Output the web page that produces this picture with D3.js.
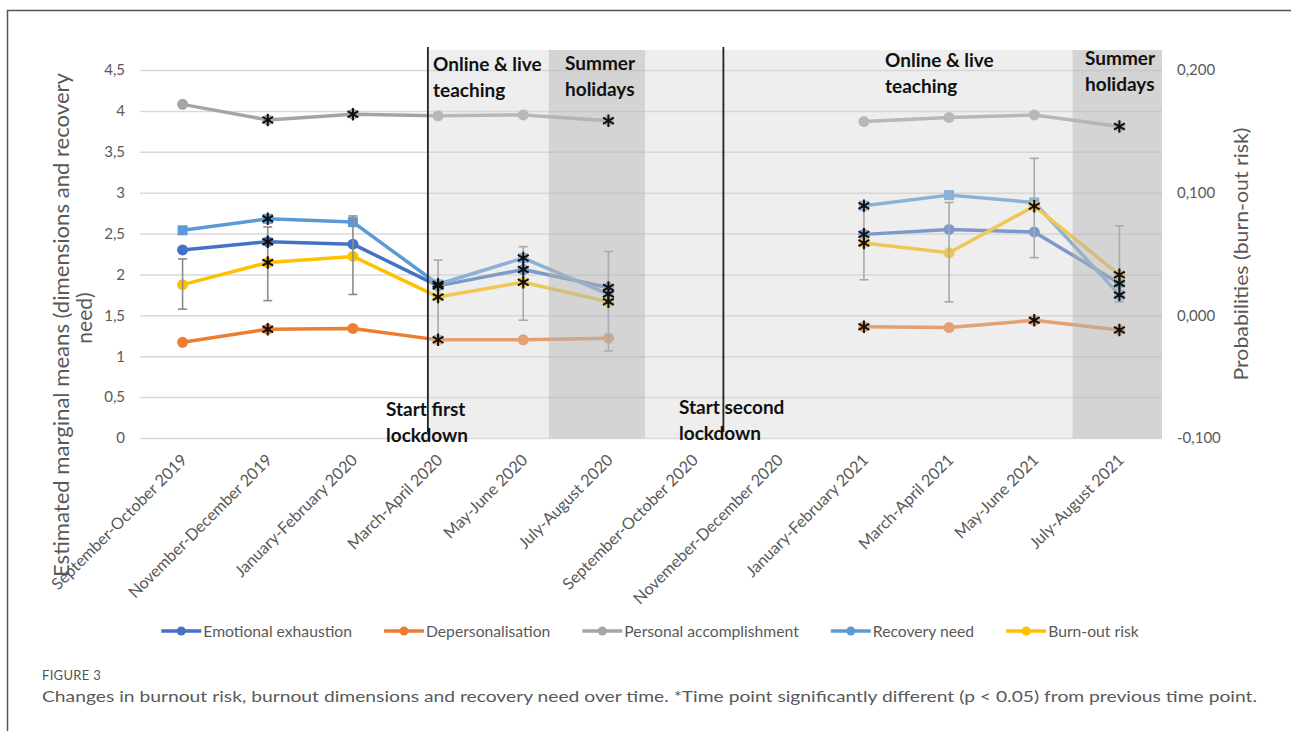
<!DOCTYPE html>
<html><head><meta charset="utf-8">
<script src="https://cdn.jsdelivr.net/npm/d3@7"></script>
<style>body{margin:0;background:#fff}svg{display:block}</style>
</head><body>
<script>
const categories = ["September-October 2019","November-December 2019","January-February 2020","March-April 2020","May-June 2020","July-August  2020","September-October 2020","Novemeber-December 2020","January-February 2021","March-April 2021","May-June 2021","July-August 2021"];
const seriesNames = ["Emotional exhaustion","Depersonalisation","Personal accomplishment","Recovery need","Burn-out risk"];
const emotional = [2.30, 2.40, 2.37, 1.86, 2.06, 1.84, null, null, 2.49, 2.55, 2.52, 1.89];
const depersonalisation = [1.17, 1.33, 1.34, 1.20, 1.20, 1.22, null, null, 1.36, 1.35, 1.44, 1.32];
const accomplishment = [4.08, 3.89, 3.96, 3.94, 3.95, 3.88, null, null, 3.87, 3.92, 3.95, 3.81];
const recovery = [2.54, 2.68, 2.64, 1.88, 2.20, 1.76, null, null, 2.84, 2.97, 2.88, 1.75];
const burnout = [0.025, 0.043, 0.048, 0.015, 0.027, 0.011, null, null, 0.059, 0.051, 0.089, 0.033];
const burnoutLow = [0.005, 0.012, 0.017, -0.017, -0.004, -0.029, null, null, 0.029, 0.011, 0.047, 0.011];
const burnoutHigh = [0.046, 0.072, 0.081, 0.045, 0.056, 0.052, null, null, 0.090, 0.092, 0.128, 0.073];
const sigEmotional = [0,1,0,1,1,1,0,0,1,0,0,1];
const sigDeperson = [0,1,0,1,0,0,0,0,1,0,1,1];
const sigAccomp = [0,1,1,0,0,1,0,0,0,0,0,1];
const sigRecovery = [0,1,0,1,1,1,0,0,1,0,0,1];
const sigBurnout = [0,1,0,1,1,1,0,0,1,0,1,1];
const leftTicks = [0,0.5,1,1.5,2,2.5,3,3.5,4,4.5];
const leftTickLabels = ["0","0,5","1","1,5","2","2,5","3","3,5","4","4,5"];
const rightTicks = [-0.1,0,0.1,0.2];
const rightTickLabels = ["-0,100","0,000","0,100","0,200"];
// period spans in category-index units (0 = left edge of first category)
const lightPeriod = [3.38, 12];
const summerPeriods = [[4.80, 5.93], [10.95, 12]];
const lockdownStarts = [3.38, 6.85];

const W = 1291, H = 731;
const FONT = "Lato, 'Open Sans', sans-serif";
const colors = ["#4472c4","#ed7d31","#a5a5a5","#5b9bd5","#ffc000"];

const svg = d3.select("body").append("svg").attr("width", W).attr("height", H)
  .style("font-family", FONT);
svg.append("rect").attr("width", W).attr("height", H).attr("fill", "#fff");
svg.append("path").attr("d", "M7.5,731 V10.5 H1291").attr("fill","none").attr("stroke","#555").attr("stroke-width",1.5);

const x = d3.scaleBand().domain(categories).range([140, 1162]);
const xi = d3.scaleLinear().domain([0, categories.length]).range([140, 1162]);
const cx = c => x(c) + x.bandwidth()/2;
const yL = d3.scaleLinear().domain([0, 4.5]).range([438, 70]);
const yR = d3.scaleLinear().domain([-0.1, 0.2]).range([438, 70]);

// gridlines + left axis
const gL = svg.append("g").attr("transform","translate(140,0)")
  .call(d3.axisLeft(yL).tickValues(leftTicks).tickSize(-(1162-140)).tickPadding(15)
    .tickFormat((d,i)=>leftTickLabels[i]));
gL.select(".domain").remove();
gL.selectAll(".tick line").attr("stroke","#d9d9d9").attr("stroke-width",1.5);
gL.selectAll(".tick text").attr("fill","#595959").style("font-size","15px").style("font-family",FONT);

// right axis
const gR = svg.append("g").attr("transform","translate(1162,0)")
  .call(d3.axisRight(yR).tickValues(rightTicks).tickSize(0).tickPadding(15)
    .tickFormat((d,i)=>rightTickLabels[i]));
gR.select(".domain").remove();
gR.selectAll(".tick text").attr("fill","#595959").style("font-size","15px").style("font-family",FONT);

// x axis labels
const gX = svg.append("g").attr("transform","translate(0,438)")
  .call(d3.axisBottom(x).tickSize(0));
gX.select(".domain").remove();
gX.selectAll(".tick text").attr("fill","#595959").style("font-size","16.2px").style("font-family",FONT)
  .attr("text-anchor","end").attr("x",0).attr("y",0).attr("dy",0)
  .attr("transform","translate(5.5,23) rotate(-45)");

// series
const series = [
  {name:seriesNames[0], vals:emotional, y:yL, sig:sigEmotional, color:colors[0], shape:"circle"},
  {name:seriesNames[1], vals:depersonalisation, y:yL, sig:sigDeperson, color:colors[1], shape:"circle"},
  {name:seriesNames[2], vals:accomplishment, y:yL, sig:sigAccomp, color:colors[2], shape:"circle"},
  {name:seriesNames[3], vals:recovery, y:yL, sig:sigRecovery, color:colors[3], shape:"square"},
  {name:seriesNames[4], vals:burnout, y:yR, sig:sigBurnout, color:colors[4], shape:"circle"}
];

const gLines = svg.append("g");
series.forEach(s => {
  const line = d3.line().defined(d => d.v != null).x(d => cx(d.c)).y(d => s.y(d.v));
  const pts = s.vals.map((v,i)=>({v, c:categories[i], sig:s.sig[i]}));
  gLines.append("path").datum(pts).attr("d", line).attr("fill","none")
    .attr("stroke", s.color).attr("stroke-width", 3.5).attr("stroke-linejoin","round");
  gLines.selectAll(null).data(pts.filter(d=>d.v!=null)).join("path")
    .attr("transform", d => `translate(${cx(d.c)},${s.y(d.v)})`)
    .attr("d", d3.symbol(s.shape==="square"? d3.symbolSquare : d3.symbolCircle, s.shape==="square"? 100 : 95))
    .attr("fill", s.color);
  s.pts = pts;
});

// error bars (burn-out risk)
const eb = burnout.map((v,i)=>({c:categories[i], lo:burnoutLow[i], hi:burnoutHigh[i]})).filter(d=>d.lo!=null);
const gE = svg.append("g").attr("stroke","#8c8c8c").attr("stroke-width",1.6);
gE.selectAll("line.v").data(eb).join("line").attr("class","v")
  .attr("x1",d=>cx(d.c)).attr("x2",d=>cx(d.c)).attr("y1",d=>yR(d.lo)).attr("y2",d=>yR(d.hi));
gE.selectAll("line.t").data(eb).join("line").attr("class","t")
  .attr("x1",d=>cx(d.c)-4.5).attr("x2",d=>cx(d.c)+4.5).attr("y1",d=>yR(d.hi)).attr("y2",d=>yR(d.hi));
gE.selectAll("line.b").data(eb).join("line").attr("class","b")
  .attr("x1",d=>cx(d.c)-4.5).attr("x2",d=>cx(d.c)+4.5).attr("y1",d=>yR(d.lo)).attr("y2",d=>yR(d.lo));

// shaded periods (overlay, semi-transparent)
const topY = 50;
svg.append("rect").attr("x", xi(lightPeriod[0])).attr("y", topY)
  .attr("width", xi(lightPeriod[1]) - xi(lightPeriod[0])).attr("height", yL(0) - topY)
  .attr("fill", "#d4d4d4").attr("fill-opacity", 0.4);
svg.selectAll("rect.summer").data(summerPeriods).join("rect").attr("class","summer")
  .attr("x", d => xi(d[0])).attr("y", topY)
  .attr("width", d => xi(d[1]) - xi(d[0])).attr("height", yL(0) - topY)
  .attr("fill", "#b0b0b0").attr("fill-opacity", 0.42);

// significance stars
const gS = svg.append("g");
series.forEach(s => {
  gS.selectAll(null).data(s.pts.filter(d=>d.v!=null && d.sig)).join("path")
    .attr("transform", d => `translate(${cx(d.c)},${s.y(d.v)})`)
    .attr("d", d3.symbol(d3.symbolAsterisk, 110))
    .attr("fill","none").attr("stroke","#111").attr("stroke-width",2);
});

// lockdown lines
svg.selectAll("line.lock").data(lockdownStarts).join("line").attr("class","lock")
  .attr("x1",d=>xi(d)).attr("x2",d=>xi(d)).attr("y1",47).attr("y2",432)
  .attr("stroke","#222").attr("stroke-width",1.8);

// annotations
const ann = [
  {t:["Online & live","teaching"], x:433, y:71},
  {t:["Summer","holidays"], x:565, y:70},
  {t:["Online & live","teaching"], x:885, y:67},
  {t:["Summer","holidays"], x:1085, y:65},
  {t:["Start first","lockdown"], x:386, y:416},
  {t:["Start second","lockdown"], x:679, y:414}
];
ann.forEach(a => {
  const t = svg.append("text").attr("x",a.x).attr("y",a.y).attr("fill","#111")
    .style("font-size","19px").style("font-weight","bold");
  a.t.forEach((s,i)=> t.append("tspan").attr("x",a.x).attr("dy", i===0?0:25.5).text(s));
});

// axis titles
svg.append("text").attr("transform","translate(69,325) rotate(-90)").attr("text-anchor","middle")
  .attr("fill","#595959").style("font-size","21px")
  .attr("textLength",504).attr("lengthAdjust","spacingAndGlyphs")
  .text("Estimated marginal means (dimensions and recovery");
svg.append("text").attr("transform","translate(92,318) rotate(-90)").attr("text-anchor","middle")
  .attr("fill","#595959").style("font-size","21px").text("need)");
svg.append("text").attr("transform","translate(1248,254) rotate(-90)").attr("text-anchor","middle")
  .attr("fill","#595959").style("font-size","20px")
  .attr("textLength",253).attr("lengthAdjust","spacingAndGlyphs")
  .text("Probabilities (burn-out risk)");

// legend
const gLeg = svg.append("g");
let lx = 0;
series.forEach((s,i) => {
  const g = gLeg.append("g").attr("transform", `translate(${lx},0)`);
  g.append("line").attr("x1",0).attr("x2",40).attr("y1",0).attr("y2",0).attr("stroke",s.color).attr("stroke-width",3.5);
  g.append("circle").attr("cx",20).attr("cy",0).attr("r",4.5).attr("fill",s.color);
  const tx = g.append("text").attr("x",42).attr("y",0).attr("dy","0.35em").attr("fill","#595959")
    .style("font-size","15.7px").text(s.name);
  lx += 42 + tx.node().getComputedTextLength() + 32;
});
const legW = lx - 32;
gLeg.attr("transform", `translate(${650 - legW/2},631)`);

// caption
svg.append("text").attr("x",42).attr("y",680).attr("fill","#555").style("font-size","13px")
  .style("letter-spacing","0.3px").text("FIGURE 3");
svg.append("text").attr("x",42).attr("y",702).attr("fill","#595959").style("font-size","16px")
  .attr("textLength",1215).attr("lengthAdjust","spacingAndGlyphs")
  .text("Changes in burnout risk, burnout dimensions and recovery need over time. *Time point significantly different (p < 0.05) from previous time point.");
</script>
</body></html>
